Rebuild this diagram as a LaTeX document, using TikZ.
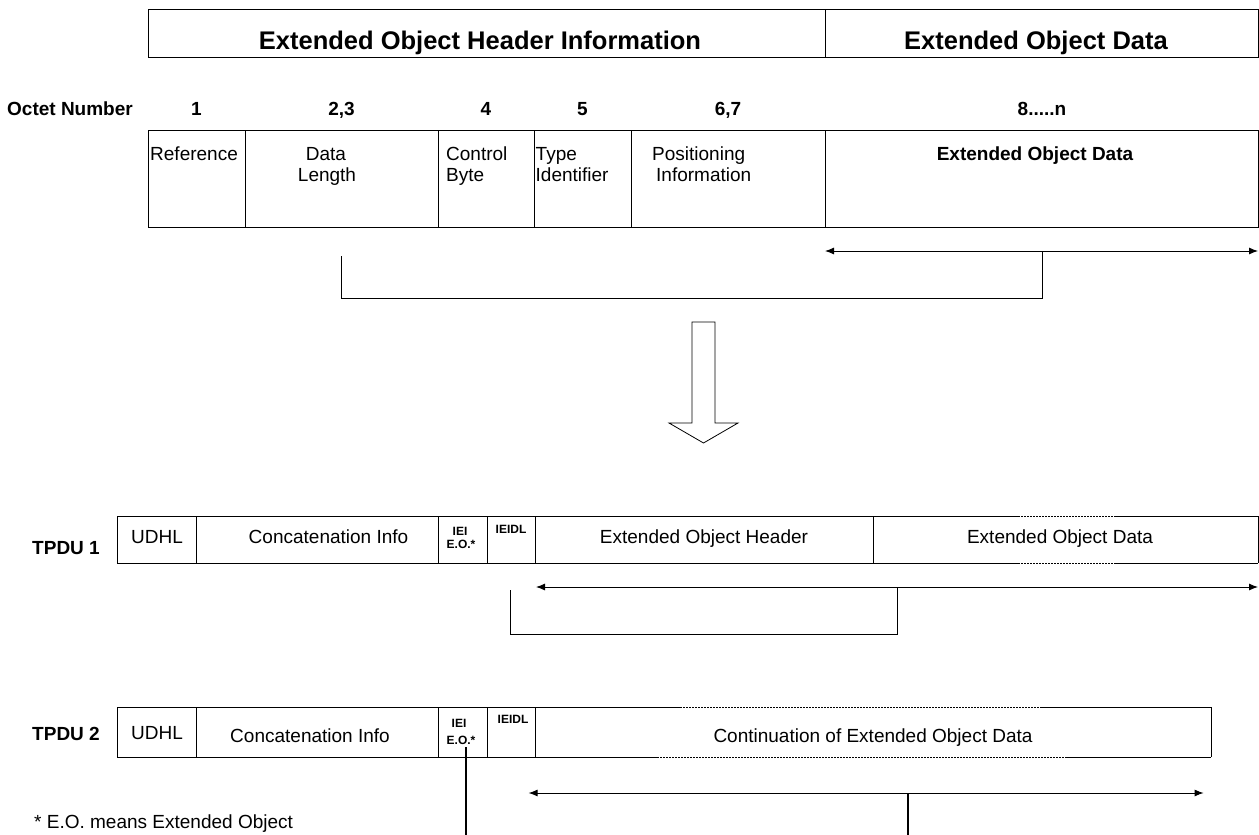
\documentclass[tikz,border=0pt]{standalone}
\usepackage{fontspec}
\setmainfont{Liberation Sans}
\usetikzlibrary{arrows.meta}
\tikzset{
  frame/.style={draw=black, line width=0.9pt},
  dotline/.style={draw=black, line width=0.7pt, dash pattern=on 1.5pt off 1.5pt},
  lbl/.style={inner sep=0pt, anchor=base},
  big/.style={lbl, font=\fontsize{25.5}{28}\selectfont\bfseries},
  octet/.style={lbl, font=\fontsize{19}{21}\selectfont\bfseries},
  body/.style={lbl, font=\fontsize{19}{21.5}\selectfont},
  bodyb/.style={lbl, font=\fontsize{19}{21.5}\selectfont\bfseries},
  tiny/.style={lbl, font=\fontsize{12}{14}\selectfont\bfseries},
  dblarrow/.style={draw=black, line width=0.9pt, {Latex[length=9pt,width=7pt]}-{Latex[length=9pt,width=7pt]}},
  bracket/.style={draw=black, line width=0.9pt},
  thick line/.style={draw=black, line width=2pt},
}
\begin{document}
\begin{tikzpicture}[x=1pt,y=-1pt]
\useasboundingbox (0,0) rectangle (1259,835);

% ---------- top header box ----------
\draw[frame] (148,9) rectangle (1258,57);
\draw[frame] (825,9) -- (825,57);
\node[big] (hdrinfo) at (480,49) {Extended Object Header Information};
\node[big] (hdrdata) at (1036,49) {Extended Object Data};

% ---------- octet numbers ----------
\node[octet, anchor=base west] (octlbl) at (7,115) {Octet Number};
\node[octet] (o1) at (196.5,115) {1};
\node[octet] (o23) at (341.5,115) {2,3};
\node[octet] (o4) at (486,115) {4};
\node[octet] (o5) at (582.5,115) {5};
\node[octet] (o67) at (728,115) {6,7};
\node[octet] (o8n) at (1042,115) {8.....n};

% ---------- field row ----------
\draw[frame] (148,130) rectangle (1258,227);
\foreach \x in {245,438,534,631,825} \draw[frame] (\x,130) -- (\x,227);
\node[body, anchor=base west] (fref) at (150,160) {Reference};
\node[body] (fdata1) at (326,160) {Data};
\node[body] (fdata2) at (327,181.5) {Length};
\node[body, anchor=base west] (fctl1) at (446,160) {Control};
\node[body, anchor=base west] (fctl2) at (446,181.5) {Byte};
\node[body, anchor=base west] (ftype1) at (535.5,160) {Type};
\node[body, anchor=base west] (ftype2) at (535.5,181.5) {Identifier};
\node[body, anchor=base west] (fpos1) at (652,160) {Positioning};
\node[body, anchor=base west] (fpos2) at (656,181.5) {Information};
\node[bodyb] (fdata) at (1035,160) {Extended Object Data};

% ---------- span arrow and bracket (top) ----------
\coordinate (tA) at (825,251);
\coordinate (tB) at (1258,251);
\draw[dblarrow] (tA) -- (tB);
\coordinate (tbL) at (341.5,256);
\coordinate (tbR) at (1042,251);
\draw[bracket] (tbL) -- ++(0,42) -| (tbR);

% ---------- hollow down arrow ----------
\draw[line width=0.8pt, fill=white]
  (692,322) -- (715,322) -- (715,423) -- (738,423) -- (703.5,443)
  -- (669,423) -- (692,423) -- cycle;

% ---------- TPDU 1 ----------
\node[octet, anchor=base east] (tp1) at (100,554) {TPDU 1};
\draw[frame] (117,516) rectangle (873,563);
\foreach \x in {196.5,438,487,535} \draw[frame] (\x,516) -- (\x,563);
\draw[frame] (1258,516) -- (1258,563);
\draw[frame] (873,516) -- (1018,516) (1114,516) -- (1258,516);
\draw[frame] (873,563) -- (1018,563) (1114,563) -- (1258,563);
\draw[dotline] (1018,516) -- (1114,516) (1018,563) -- (1114,563);
\node[body] (u1) at (157,543.5) {UDHL};
\node[body] (c1) at (328.5,543.5) {Concatenation Info};
\node[tiny] (iei1) at (460,535) {IEI};
\node[tiny] (eo1) at (461,548) {E.O.*};
\node[tiny] (ieidl1) at (511,533) {IEIDL};
\node[body] (eoh1) at (704,543.5) {Extended Object Header};
\node[body] (eod1) at (1060,543.5) {Extended Object Data};

\coordinate (p1A) at (536,587);
\coordinate (p1B) at (1258,587);
\draw[dblarrow] (p1A) -- (p1B);
\coordinate (p1bL) at (510.5,590);
\coordinate (p1bR) at (897,587);
\draw[bracket] (p1bL) -- ++(0,44) -| (p1bR);

% ---------- TPDU 2 ----------
\node[octet, anchor=base east] (tp2) at (100,740) {TPDU 2};
\draw[frame] (117,707) rectangle (535,757);
\foreach \x in {196.5,438,487} \draw[frame] (\x,707) -- (\x,757);
\draw[frame] (1211,707) -- (1211,757);
\draw[frame] (535,707) -- (680,707) (1042,707) -- (1211,707);
\draw[frame] (535,757) -- (657,757) (1066,757) -- (1211,757);
\draw[dotline] (680,707) -- (1042,707) (657,757) -- (1066,757);
\node[body] (u2) at (157,739) {UDHL};
\node[body] (c2) at (310,742) {Concatenation Info};
\node[tiny] (iei2) at (459,727) {IEI};
\node[tiny] (eo2) at (461,744) {E.O.*};
\node[tiny] (ieidl2) at (513,723) {IEIDL};
\node[body] (cont2) at (873,742) {Continuation of Extended Object Data};

\coordinate (p2A) at (528.6,793);
\coordinate (p2B) at (1203.6,793);
\draw[dblarrow] (p2A) -- (p2B);
\coordinate (v1top) at (466,747);
\coordinate (v1bot) at (466,835);
\draw[thick line] (v1top) -- (v1bot);
\coordinate (v2top) at (908,793);
\coordinate (v2bot) at (908,835);
\draw[thick line] (v2top) -- (v2bot);

% ---------- footnote ----------
\node[body, anchor=base west] (foot) at (34,828) {* E.O. means Extended Object};
\end{tikzpicture}
\end{document}
